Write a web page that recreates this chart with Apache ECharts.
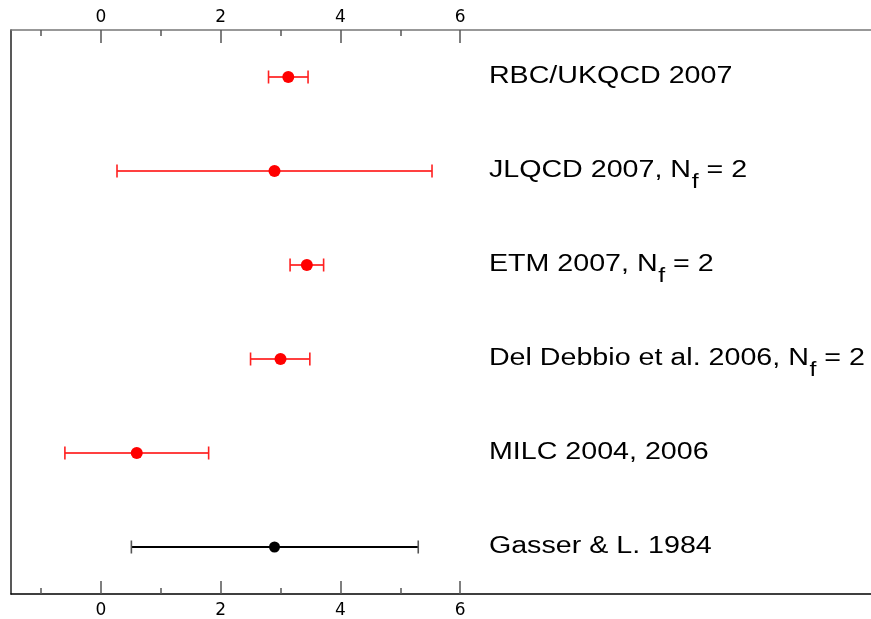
<!DOCTYPE html>
<html><head><meta charset="utf-8">
<script src="https://cdn.jsdelivr.net/npm/echarts@6/dist/echarts.min.js"></script>
<style>html,body{margin:0;padding:0;background:#fff}#c{width:871px;height:619px}</style>
</head><body><div id="c"></div>
<script>
// ---- data ----
const rowNames = ['RBC/UKQCD 2007', 'JLQCD 2007', 'ETM 2007', 'Del Debbio et al. 2006', 'MILC 2004, 2006', 'Gasser & L. 1984'];
const labelMain = ['RBC/UKQCD 2007', 'JLQCD 2007, N', 'ETM 2007, N', 'Del Debbio et al. 2006, N', 'MILC 2004, 2006', 'Gasser & L. 1984'];
const labelSub = ['', 'f', 'f', 'f', '', ''];
const labelTail = ['', ' = 2', ' = 2', ' = 2', '', ''];
const centralValues = [3.13, 2.90, 3.44, 3.00, 0.60, 2.90];
const lowerValues = [2.80, 0.27, 3.16, 2.50, -0.60, 0.51];
const upperValues = [3.46, 5.53, 3.72, 3.49, 1.80, 5.30];
const pointColors = ['#ff0000', '#ff0000', '#ff0000', '#ff0000', '#ff0000', '#000000'];
const capColors = ['#ff2020', '#ff2020', '#ff2020', '#ff2020', '#ff2020', '#555555'];
const majorTicks = [0, 2, 4, 6];
const minorTicks = [-1, 1, 3, 5];
const labelX = 6.48;

// ---- helpers ----
const MAIN_FS = 23, SUB_FS = 20, FAMILY = '"Liberation Sans", Arial, sans-serif';
const mctx = document.createElement('canvas').getContext('2d');
function measure(t, fs) { mctx.font = fs + 'px ' + FAMILY; return mctx.measureText(t).width; }

const chart = echarts.init(document.getElementById('c'), null, {renderer: 'canvas'});

function xAxisDef(pos, ticks, len, showLine, showLabel, lineColor) {
  return {
    type: 'value', position: pos, min: -1.5, max: 12.86, interval: 0.5, gridIndex: 0,
    axisLine: {show: showLine, onZero: false, lineStyle: {color: lineColor, width: 1.5}},
    axisTick: {show: true, inside: true, length: len, customValues: ticks, lineStyle: {color: '#555', width: 1.5}},
    axisLabel: {
      show: showLabel, fontSize: 17, fontFamily: 'DejaVu Sans', color: '#000',
      margin: pos === 'top' ? 4 : 8, showMinLabel: false, showMaxLabel: false, hideOverlap: false,
      formatter: function (v) { return majorTicks.indexOf(v) >= 0 ? String(v) : ''; }
    },
    splitLine: {show: false}
  };
}

const option = {
  animation: false,
  backgroundColor: '#fff',
  grid: {left: 11, right: 0, top: 30, bottom: 25, containLabel: false},
  xAxis: [
    xAxisDef('bottom', majorTicks, 13, true, true, '#000'),
    xAxisDef('bottom', minorTicks, 6, false, false, '#000'),
    xAxisDef('top', majorTicks, 13, true, true, '#777'),
    xAxisDef('top', minorTicks, 6, false, false, '#777')
  ],
  yAxis: {
    type: 'category', data: rowNames, inverse: true, boundaryGap: true,
    axisLine: {show: true, onZero: false, lineStyle: {color: '#222', width: 1.5}},
    axisTick: {show: false}, axisLabel: {show: false}, splitLine: {show: false}
  },
  series: [
    {
      type: 'custom', xAxisIndex: 0, yAxisIndex: 0,
      data: rowNames.map((_, i) => [lowerValues[i], upperValues[i], i]),
      encode: {x: [0, 1], y: 2},
      renderItem: function (params, api) {
        const i = api.value(2);
        const a = api.coord([api.value(0), i]);
        const b = api.coord([api.value(1), i]);
        const h = 6.5;
        const black = i === 5;
        const lw = black ? 1.8 : 1.5;
        return {
          type: 'group',
          children: [
            {type: 'line', shape: {x1: a[0], y1: a[1], x2: b[0], y2: b[1]}, style: {stroke: pointColors[i], lineWidth: lw, opacity: 1}},
            {type: 'line', shape: {x1: a[0], y1: a[1] - h, x2: a[0], y2: a[1] + h}, style: {stroke: capColors[i], lineWidth: 1.6, opacity: 1}},
            {type: 'line', shape: {x1: b[0], y1: b[1] - h, x2: b[0], y2: b[1] + h}, style: {stroke: capColors[i], lineWidth: 1.6, opacity: 1}}
          ]
        };
      }
    },
    {
      type: 'scatter', xAxisIndex: 0, yAxisIndex: 0, symbol: 'circle',
      symbolSize: 12, itemStyle: {opacity: 1},
      data: rowNames.map((_, i) => ({value: [centralValues[i], i], itemStyle: {color: pointColors[i], opacity: 1}, symbolSize: i === 5 ? 11 : 12}))
    },
    {
      type: 'custom', xAxisIndex: 0, yAxisIndex: 0, clip: false,
      data: rowNames.map((_, i) => [labelX, i]),
      encode: {x: 0, y: 1},
      renderItem: function (params, api) {
        const i = api.value(1);
        const p = api.coord([api.value(0), i]);
        const base = {fill: '#000', fontFamily: FAMILY, align: 'left', verticalAlign: 'middle'};
        const children = [{type: 'text', x: 0, y: 0, style: Object.assign({text: labelMain[i], fontSize: MAIN_FS}, base)}];
        if (labelSub[i]) {
          const w1 = measure(labelMain[i], MAIN_FS) + 0.5;
          const w2 = measure(labelSub[i], SUB_FS);
          children.push({type: 'text', x: w1, y: 11, style: Object.assign({text: labelSub[i], fontSize: SUB_FS}, base)});
          children.push({type: 'text', x: w1 + w2, y: 0, style: Object.assign({text: labelTail[i], fontSize: MAIN_FS}, base)});
        }
        return {type: 'group', x: p[0], y: p[1], scaleX: 1.245, children: children};
      }
    }
  ]
};
chart.setOption(option);
</script>
</body></html>
